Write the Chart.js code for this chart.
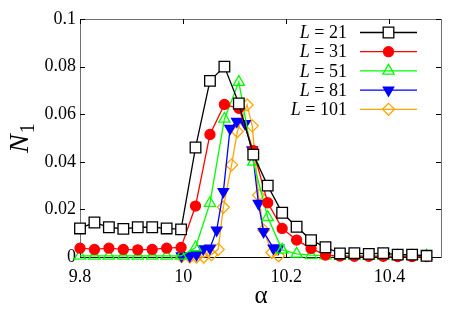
<!DOCTYPE html>
<html lang="en">
<head>
<meta charset="UTF-8">
<title>N1 vs alpha</title>
<script src="https://cdn.jsdelivr.net/npm/chart.js"></script>
<style>
  body { margin: 0; background: #fff; }
  .chart-container { width: 463px; height: 324px; }
</style>
</head>
<body>
<div class="chart-container"><canvas id="n1Chart"></canvas></div>
<script>
// common alpha grid for L = 21, 31, 51
const alphaGrid = [9.8, 9.828, 9.856, 9.884, 9.912, 9.94, 9.968, 9.996, 10.024, 10.052,
                   10.08, 10.108, 10.136, 10.164, 10.192, 10.22, 10.248, 10.276, 10.304,
                   10.332, 10.36, 10.388, 10.416, 10.444, 10.472];
const n1L21 = [0.012, 0.0145, 0.0125, 0.0118, 0.0125, 0.0125, 0.012, 0.0116, 0.046, 0.074,
               0.080, 0.0645, 0.043, 0.030, 0.0186, 0.0127, 0.0071, 0.0041, 0.0015, 0.0016,
               0.0013, 0.0016, 0.001, 0.001, 0.0005];
const n1L31 = [0.0037, 0.0032, 0.0037, 0.0032, 0.003, 0.0032, 0.0037, 0.004, 0.0214, 0.0515,
               0.0641, 0.0625, 0.0447, 0.0228, 0.012, 0.0071, 0.0036, 0.0008, 0.0004, 0.0003,
               0.0003, 0.0003, 0.0002, 0.0002, 0.0002];
const n1L51 = [0.0005, 0.0005, 0.0005, 0.0005, 0.0005, 0.0005, 0.0005, 0.0005, 0.004, 0.0226,
               0.058, 0.0735, 0.040, 0.0167, 0.003, 0.0013, 0.0008, 0.0006, 0.0005, 0.0005,
               0.0005, 0.0005, 0.0005, 0.0005, 0.0005];
// finer grids for the larger systems
const alphaL81 = [9.997, 10.013, 10.026, 10.039, 10.052, 10.065, 10.078, 10.091, 10.104,
                  10.12, 10.134, 10.146, 10.156, 10.175, 10.185];
const n1L81 = [0.0005, 0.0005, 0.001, 0.0034, 0.0037, 0.0113, 0.0275, 0.054, 0.057,
               0.056, 0.045, 0.0225, 0.0106, 0.0037, 0.0037];
const alphaL101 = [9.997, 10.013, 10.026, 10.04, 10.055, 10.068, 10.078, 10.094, 10.105,
                   10.124, 10.134, 10.146, 10.156, 10.172, 10.185];
const n1L101 = [0.0002, 0, 0, 0, 0.001, 0.0032, 0.0209, 0.0387, 0.0527,
                0.0639, 0.0551, 0.026, 0.0113, 0.0019, 0.0005];

const seriesNames = ['21', '31', '51', '81', '101'];
const xTicks = [9.8, 10, 10.2, 10.4];
const yTicks = [0, 0.02, 0.04, 0.06, 0.08, 0.1];

const FONT = 'Liberation Serif';
Chart.defaults.font.family = FONT;

const styles = [
    { color: '#000000', pointStyle: 'rect', radius: 7.5, rotation: 0, fill: '#ffffff' },
    { color: '#ff0000', pointStyle: 'circle', radius: 5, rotation: 0, fill: '#ff0000' },
    { color: '#00ff00', pointStyle: 'triangle', radius: 6.5, rotation: 0, fill: 'rgba(0,0,0,0)' },
    { color: '#0000ff', pointStyle: 'triangle', radius: 6, rotation: 180, fill: '#0000ff' },
    { color: '#ffa500', pointStyle: 'rectRot', radius: 6, rotation: 0, fill: 'rgba(0,0,0,0)' }
];

function pairs(xs, ys) {
    return xs.map((x, i) => ({ x: x, y: ys[i] }));
}

const seriesData = [
    pairs(alphaGrid, n1L21),
    pairs(alphaGrid, n1L31),
    pairs(alphaGrid, n1L51),
    pairs(alphaL81, n1L81),
    pairs(alphaL101, n1L101)
];

const datasets = seriesData.map((d, i) => ({
    label: 'L = ' + seriesNames[i],
    data: d,
    borderColor: styles[i].color,
    backgroundColor: styles[i].fill,
    borderWidth: 1.3,
    pointStyle: styles[i].pointStyle,
    pointRadius: styles[i].radius,
    pointRotation: styles[i].rotation,
    pointBorderWidth: 1.3,
    pointBorderColor: styles[i].color,
    pointBackgroundColor: styles[i].fill,
    tension: 0,
    clip: false
}));

// frame, inward ticks, zero line, axis titles, custom legend
const decorPlugin = {
    id: 'decor',
    beforeDatasetsDraw(chart) {
        const ctx = chart.ctx;
        const a = chart.chartArea;
        const xs = chart.scales.x, ys = chart.scales.y;
        ctx.save();
        ctx.strokeStyle = '#707070';
        ctx.lineWidth = 1;
        ctx.strokeRect(a.left + 0.5, a.top + 0.5, a.right - a.left, a.bottom - a.top);
        ctx.strokeStyle = '#000';
        ctx.beginPath();
        xTicks.forEach(v => {
            const px = Math.round(xs.getPixelForValue(v)) + 0.5;
            ctx.moveTo(px, a.top); ctx.lineTo(px, a.top + 5);
            ctx.moveTo(px, a.bottom); ctx.lineTo(px, a.bottom - 5);
        });
        yTicks.forEach(v => {
            const py = Math.round(ys.getPixelForValue(v)) + 0.5;
            ctx.moveTo(a.left, py); ctx.lineTo(a.left + 5, py);
            ctx.moveTo(a.right, py); ctx.lineTo(a.right - 5, py);
        });
        ctx.stroke();
        // zero line
        const y0 = Math.round(ys.getPixelForValue(0)) + 0.5;
        ctx.beginPath();
        ctx.moveTo(a.left, y0); ctx.lineTo(a.right, y0);
        ctx.stroke();
        ctx.restore();
    },
    afterDatasetsDraw(chart) {
        const ctx = chart.ctx;
        ctx.save();
        ctx.fillStyle = '#000';
        // y title N_1
        ctx.save();
        ctx.translate(28, 153);
        ctx.rotate(-Math.PI / 2);
        ctx.textAlign = 'left';
        ctx.textBaseline = 'alphabetic';
        ctx.font = 'italic 28px ' + FONT;
        ctx.fillText('N', 0, 0);
        const wN = ctx.measureText('N').width;
        ctx.font = '20px ' + FONT;
        ctx.fillText('1', wN + 1, 6);
        ctx.restore();
        // x title alpha
        ctx.font = '25px ' + FONT;
        ctx.textAlign = 'center';
        ctx.textBaseline = 'alphabetic';
        ctx.fillText('α', 261, 303);
        // legend
        const textRight = 347, lineL = 360, lineR = 417, markX = 388.5;
        styles.forEach((s, i) => {
            const y = 32.5 + i * 19.2;
            ctx.textBaseline = 'middle';
            ctx.textAlign = 'right';
            ctx.fillStyle = '#000';
            ctx.font = '18px ' + FONT;
            const rest = ' = ' + seriesNames[i];
            ctx.fillText(rest, textRight, y + 1);
            const w = ctx.measureText(rest).width;
            ctx.font = 'italic 18px ' + FONT;
            ctx.fillText('L', textRight - w, y + 1);
            ctx.strokeStyle = s.color;
            ctx.lineWidth = 1.3;
            ctx.beginPath();
            ctx.moveTo(lineL, y); ctx.lineTo(lineR, y);
            ctx.stroke();
            ctx.fillStyle = s.fill;
            Chart.helpers.drawPoint(ctx, {
                pointStyle: s.pointStyle, radius: s.radius, rotation: s.rotation, borderWidth: 1.3
            }, markX, y);
        });
        ctx.restore();
    }
};

new Chart(document.getElementById('n1Chart').getContext('2d'), {
    type: 'line',
    data: { datasets: datasets },
    options: {
        responsive: true,
        maintainAspectRatio: false,
        animation: false,
        layout: { padding: { left: 0, right: 22, top: 19, bottom: 0 } },
        plugins: {
            legend: { display: false },
            tooltip: { enabled: false }
        },
        scales: {
            x: {
                type: 'linear',
                min: 9.8,
                max: 10.5,
                afterBuildTicks: s => { s.ticks = xTicks.map(v => ({ value: v })); },
                afterFit: s => { s.height = 67; },
                grid: { display: false, drawTicks: false },
                border: { display: false },
                ticks: {
                    padding: 9,
                    color: '#000',
                    font: { size: 18 },
                    callback: v => String(v)
                }
            },
            y: {
                min: 0,
                max: 0.1,
                afterBuildTicks: s => { s.ticks = yTicks.map(v => ({ value: v })); },
                afterFit: s => { s.width = 80; },
                grid: { display: false, drawTicks: false },
                border: { display: false },
                ticks: {
                    padding: 4,
                    color: '#000',
                    font: { size: 18 },
                    callback: v => String(v)
                }
            }
        }
    },
    plugins: [decorPlugin]
});
</script>
</body>
</html>
